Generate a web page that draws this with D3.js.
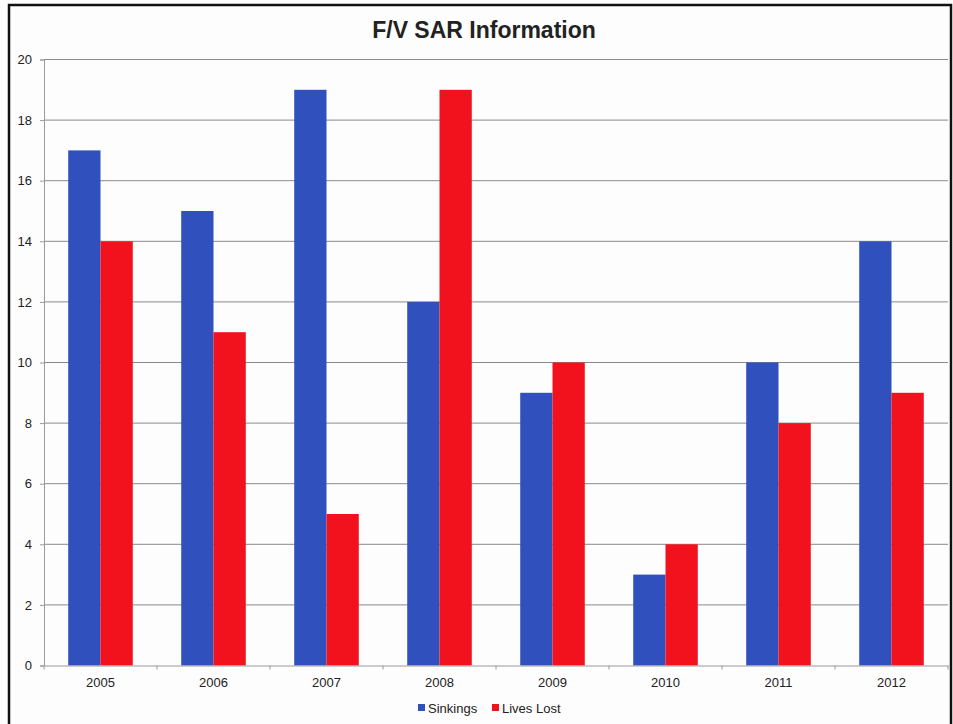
<!DOCTYPE html>
<html>
<head>
<meta charset="utf-8">
<script src="https://cdn.jsdelivr.net/npm/d3@7"></script>
<style>
  body { margin: 0; background: #fff; }
  svg text { font-family: "Liberation Sans", Arial, sans-serif; fill: #222; }
</style>
</head>
<body>
<script>
"use strict";

var years = ["2005", "2006", "2007", "2008", "2009", "2010", "2011", "2012"];
var sinkings = [17, 15, 19, 12, 9, 3, 10, 14];
var livesLost = [14, 11, 5, 19, 10, 4, 8, 9];
var seriesNames = ["Sinkings", "Lives Lost"];
var seriesColors = ["#2f50bd", "#f2121d"];
var yTicks = [0, 2, 4, 6, 8, 10, 12, 14, 16, 18, 20];

function makeChart(){
    var width = 953, height = 724;
    var svg = d3.select("body").append("svg").attr("width", width).attr("height", height);

    // scanned page frame
    svg.append("rect").attr("x", 9).attr("y", 5).attr("width", 942).attr("height", 730)
        .attr("fill", "#fdfdfd").attr("stroke", "#111").attr("stroke-width", 2.5);

    var left = 44, right = 948, top = 59.5, bottom = 665.5;

    var x0 = d3.scaleBand().domain(years).range([left, right]).padding(0);
    var bw = x0.bandwidth();
    var barW = bw / 3.5;
    var x1 = d3.scaleBand().domain(seriesNames).range([(bw - 2 * barW) / 2, (bw + 2 * barW) / 2]);
    var y = d3.scaleLinear().domain([0, 20]).range([bottom, top]);

    // gridlines
    svg.append("g").selectAll("line").data(yTicks.filter(function(d){ return d > 0; })).enter()
        .append("line")
        .attr("x1", left).attr("x2", right)
        .attr("y1", function(d){ return y(d); }).attr("y2", function(d){ return y(d); })
        .attr("stroke", "#8a8a8a").attr("stroke-width", 1);

    // y axis
    var yAxis = svg.append("g").attr("transform", "translate(" + left + ",0)")
        .call(d3.axisLeft(y).tickValues(yTicks).tickSize(4).tickPadding(8));
    yAxis.select(".domain").attr("stroke", "#9a9a9a");
    yAxis.selectAll(".tick line").attr("stroke", "#9a9a9a");
    yAxis.selectAll("text").attr("font-size", 13).attr("fill", "#333");

    // bars
    var rows = years.map(function(yr, i){
        return { year: yr, values: [sinkings[i], livesLost[i]] };
    });
    var groups = svg.append("g").selectAll("g").data(rows).enter().append("g")
        .attr("transform", function(d){ return "translate(" + x0(d.year) + ",0)"; });
    groups.selectAll("rect").data(function(d){
            return d.values.map(function(v, j){ return { name: seriesNames[j], value: v, idx: j }; });
        }).enter().append("rect")
        .attr("x", function(d){ return x1(d.name); })
        .attr("y", function(d){ return y(d.value); })
        .attr("width", x1.bandwidth())
        .attr("height", function(d){ return y(0) - y(d.value); })
        .attr("fill", function(d){ return seriesColors[d.idx]; });

    // x axis
    var xAxis = svg.append("g").attr("transform", "translate(0," + bottom + ")")
        .call(d3.axisBottom(x0).tickSize(0).tickPadding(12));
    xAxis.select(".domain").attr("stroke", "#9a9a9a");
    xAxis.selectAll("text").attr("font-size", 13).attr("fill", "#333");
    svg.append("g").selectAll("line").data(d3.range(years.length + 1)).enter()
        .append("line")
        .attr("x1", function(i){ return left + i * bw; }).attr("x2", function(i){ return left + i * bw; })
        .attr("y1", bottom).attr("y2", bottom + 4)
        .attr("stroke", "#9a9a9a");

    // title
    svg.append("text").attr("x", 484).attr("y", 38).attr("text-anchor", "middle")
        .attr("font-size", 23).attr("font-weight", "bold").attr("fill", "#111")
        .text("F/V SAR Information");

    // legend
    var legend = svg.append("g").attr("transform", "translate(418,713)");
    var lx = [0, 74];
    seriesNames.forEach(function(n, i){
        legend.append("rect").attr("x", lx[i]).attr("y", -9).attr("width", 7).attr("height", 7)
            .attr("fill", seriesColors[i]);
        legend.append("text").attr("x", lx[i] + 10).attr("y", 0).attr("font-size", 13)
            .attr("fill", "#222").text(n);
    });
}

makeChart();
</script>
</body>
</html>
